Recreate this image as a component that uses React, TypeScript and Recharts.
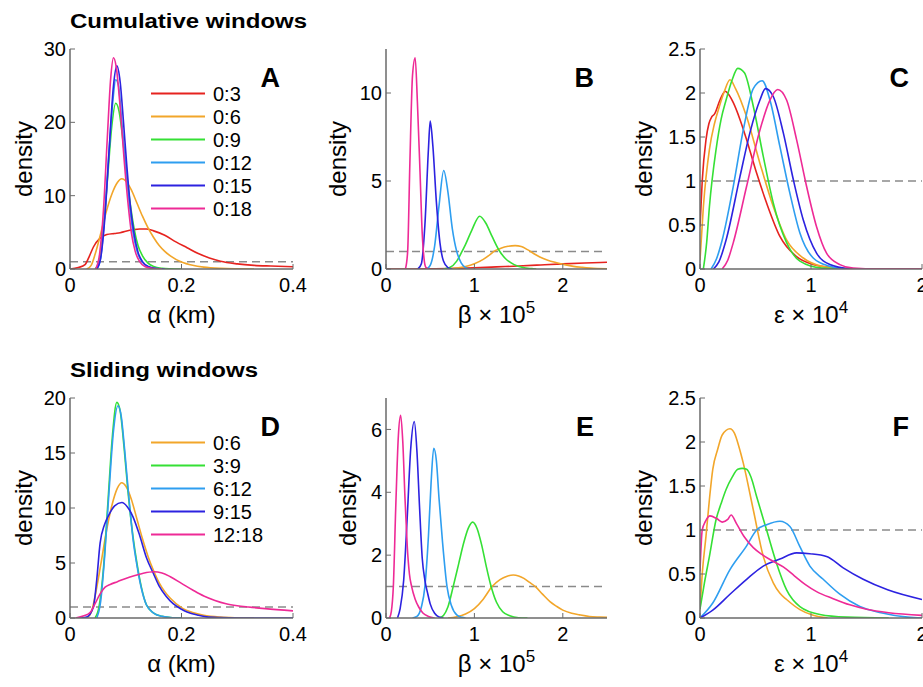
import React from 'react';
import { LineChart, Line, XAxis, YAxis, ReferenceLine, Legend } from 'recharts';

type Pt = [number, number];

const FONT = '"Liberation Sans", Arial, Helvetica, sans-serif';

const RED = '#e6231f';
const ORANGE = '#f2a62a';
const GREEN = '#35e035';
const LIGHTBLUE = '#2e9ef0';
const BLUE = '#2c22e0';
const PINK = '#ee2a96';

const cumulativeNames = ['0:3', '0:6', '0:9', '0:12', '0:15', '0:18'];
const slidingNames = ['0:6', '3:9', '6:12', '9:15', '12:18'];

// ---- alpha (km), cumulative windows
const alpha03: Pt[] = [[0, 0], [0.015, 0.2], [0.027, 0.6], [0.035, 1.8], [0.042, 3.0], [0.054, 4.2], [0.066, 4.7], [0.08, 4.85], [0.09, 4.95], [0.1, 5.15], [0.113, 5.35], [0.125, 5.45], [0.137, 5.45], [0.15, 5.2], [0.17, 4.6], [0.19, 3.7], [0.21, 2.9], [0.23, 2.1], [0.25, 1.5], [0.27, 1.05], [0.3, 0.7], [0.33, 0.5], [0.36, 0.4], [0.4, 0.3]];
// 0:6 is the same window in both rows
const alpha06: Pt[] = [[0.03, 0], [0.038, 0.5], [0.045, 2.0], [0.055, 4.8], [0.065, 7.8], [0.075, 10.2], [0.085, 11.8], [0.093, 12.3], [0.1, 12.0], [0.11, 10.8], [0.12, 9.0], [0.13, 7.2], [0.14, 5.6], [0.15, 4.3], [0.16, 3.2], [0.17, 2.4], [0.18, 1.8], [0.2, 0.95], [0.22, 0.5], [0.24, 0.25], [0.27, 0.08], [0.3, 0.02], [0.33, 0]];
const alpha09: Pt[] = [[0.045, 0], [0.052, 1.0], [0.06, 5.5], [0.068, 13], [0.075, 19.5], [0.082, 22.6], [0.088, 21.5], [0.095, 17.5], [0.1, 14], [0.107, 9.5], [0.115, 5.5], [0.122, 3.2], [0.13, 1.8], [0.14, 0.8], [0.15, 0.35], [0.165, 0.1], [0.18, 0.03], [0.2, 0]];
const alpha012: Pt[] = [[0.048, 0], [0.055, 1.5], [0.062, 7], [0.07, 16], [0.077, 23], [0.082, 25.8], [0.087, 25], [0.093, 20], [0.1, 14], [0.107, 8.5], [0.113, 5], [0.12, 2.5], [0.13, 0.9], [0.14, 0.3], [0.155, 0.05], [0.17, 0]];
const alpha015: Pt[] = [[0.048, 0], [0.055, 1.5], [0.062, 6.5], [0.07, 16], [0.078, 25], [0.084, 27.7], [0.09, 25.5], [0.096, 20], [0.102, 14], [0.108, 8.8], [0.115, 4.8], [0.122, 2.3], [0.13, 1.0], [0.14, 0.35], [0.155, 0.05], [0.17, 0]];
const alpha018: Pt[] = [[0.046, 0], [0.053, 2], [0.06, 8], [0.067, 18], [0.073, 26], [0.078, 28.8], [0.083, 27.5], [0.09, 22], [0.097, 15], [0.104, 9], [0.11, 5], [0.117, 2.4], [0.125, 1], [0.135, 0.3], [0.15, 0.05], [0.165, 0]];

// ---- beta x 1e5, cumulative windows
const beta03: Pt[] = [[0, 0], [0.5, 0.01], [0.8, 0.04], [1.0, 0.07], [1.25, 0.12], [1.5, 0.17], [1.75, 0.23], [2.0, 0.29], [2.25, 0.34], [2.5, 0.38]];
const beta06: Pt[] = [[0.7, 0], [0.8, 0.05], [0.9, 0.14], [1.0, 0.3], [1.1, 0.55], [1.18, 0.83], [1.22, 1.0], [1.3, 1.18], [1.38, 1.29], [1.46, 1.33], [1.53, 1.28], [1.6, 1.1], [1.67, 0.88], [1.74, 0.68], [1.83, 0.5], [1.93, 0.36], [2.02, 0.25], [2.12, 0.15], [2.22, 0.09], [2.31, 0.05], [2.5, 0.01]];
const beta09: Pt[] = [[0.65, 0], [0.72, 0.08], [0.8, 0.45], [0.85, 0.9], [0.9, 1.4], [0.97, 2.2], [1.06, 3.0], [1.13, 2.6], [1.2, 1.85], [1.28, 1.05], [1.35, 0.6], [1.45, 0.25], [1.55, 0.08], [1.65, 0.02], [1.7, 0]];
const beta012: Pt[] = [[0.46, 0], [0.5, 0.2], [0.55, 1.3], [0.6, 3.6], [0.653, 5.6], [0.7, 4.4], [0.75, 2.3], [0.8, 1.0], [0.85, 0.35], [0.9, 0.08], [0.95, 0]];
const beta015: Pt[] = [[0.36, 0], [0.4, 0.3], [0.44, 2.5], [0.48, 6.8], [0.5, 8.4], [0.53, 7.0], [0.57, 3.8], [0.61, 1.5], [0.65, 0.45], [0.7, 0.08], [0.75, 0]];
const beta018: Pt[] = [[0.22, 0], [0.245, 1.0], [0.27, 6], [0.3, 11], [0.33, 12], [0.355, 9.5], [0.385, 5.5], [0.41, 2], [0.43, 0.6], [0.45, 0.1], [0.48, 0]];

// ---- epsilon x 1e4, cumulative windows
const eps03: Pt[] = [[0, 0.48], [0.02, 1.0], [0.054, 1.47], [0.08, 1.65], [0.106, 1.73], [0.13, 1.76], [0.18, 1.92], [0.227, 2.02], [0.26, 1.98], [0.3, 1.89], [0.36, 1.7], [0.42, 1.47], [0.51, 1.09], [0.6, 0.75], [0.72, 0.37], [0.87, 0.14], [1.02, 0.05], [1.2, 0.015], [1.5, 0], [2, 0]];
const eps06: Pt[] = [[0, 0.1], [0.03, 0.7], [0.085, 1.36], [0.13, 1.65], [0.175, 1.85], [0.22, 2.02], [0.27, 2.15], [0.32, 2.05], [0.42, 1.73], [0.54, 1.2], [0.66, 0.71], [0.78, 0.33], [0.93, 0.125], [1.1, 0.03], [1.3, 0]];
const eps09: Pt[] = [[0.03, 0], [0.06, 0.3], [0.085, 0.71], [0.145, 1.36], [0.19, 1.7], [0.235, 1.92], [0.29, 2.15], [0.34, 2.28], [0.4, 2.23], [0.48, 1.85], [0.57, 1.28], [0.66, 0.75], [0.78, 0.3], [0.9, 0.09], [1.1, 0.01], [1.3, 0]];
const eps012: Pt[] = [[0.1, 0], [0.15, 0.12], [0.2, 0.33], [0.3, 0.94], [0.39, 1.58], [0.48, 2.05], [0.56, 2.14], [0.63, 1.92], [0.72, 1.39], [0.81, 0.86], [0.9, 0.41], [1.02, 0.125], [1.17, 0.03], [1.3, 0]];
const eps015: Pt[] = [[0.12, 0], [0.17, 0.08], [0.235, 0.33], [0.36, 1.05], [0.45, 1.55], [0.54, 1.92], [0.59, 2.05], [0.66, 1.96], [0.75, 1.55], [0.84, 1.02], [0.93, 0.56], [1.05, 0.18], [1.17, 0.05], [1.35, 0]];
const eps018: Pt[] = [[0.2, 0], [0.25, 0.1], [0.3, 0.3], [0.42, 0.94], [0.54, 1.58], [0.63, 1.92], [0.7, 2.04], [0.78, 1.92], [0.87, 1.47], [0.96, 0.94], [1.05, 0.48], [1.14, 0.18], [1.26, 0.05], [1.38, 0.01], [1.6, 0], [2, 0]];

// ---- sliding windows
const alpha39: Pt[] = [[0.045, 0], [0.052, 1.0], [0.06, 4.5], [0.068, 10.5], [0.076, 16.5], [0.084, 19.6], [0.09, 18.8], [0.097, 15.5], [0.104, 11.5], [0.113, 7.4], [0.12, 5], [0.128, 2.8], [0.137, 1.2], [0.15, 0.45], [0.165, 0.15], [0.18, 0.05], [0.2, 0]];
const alpha612: Pt[] = [[0.048, 0], [0.055, 1.5], [0.062, 5.5], [0.07, 11.5], [0.078, 17], [0.086, 19.3], [0.092, 18.3], [0.098, 15.3], [0.105, 11.3], [0.113, 7.2], [0.12, 4.8], [0.128, 2.7], [0.137, 1.2], [0.15, 0.45], [0.165, 0.15], [0.18, 0.05], [0.2, 0]];
const alpha915: Pt[] = [[0.015, 0], [0.03, 0.1], [0.042, 1.0], [0.048, 3.5], [0.054, 6.8], [0.062, 8.5], [0.07, 9.4], [0.08, 10.2], [0.093, 10.5], [0.103, 10.1], [0.113, 9.2], [0.125, 7.5], [0.137, 5.5], [0.15, 4.0], [0.16, 2.9], [0.172, 2.0], [0.185, 1.3], [0.2, 0.8], [0.21, 0.55], [0.23, 0.25], [0.245, 0.1], [0.27, 0.03], [0.3, 0], [0.4, 0]];
const alpha1218: Pt[] = [[0.01, 0], [0.025, 0.2], [0.036, 0.5], [0.045, 1.3], [0.054, 2.2], [0.063, 2.8], [0.072, 3.05], [0.085, 3.3], [0.1, 3.6], [0.115, 3.85], [0.13, 4.05], [0.15, 4.2], [0.165, 4.1], [0.18, 3.75], [0.2, 3.15], [0.22, 2.55], [0.24, 2.0], [0.26, 1.6], [0.28, 1.3], [0.3, 1.12], [0.32, 1.0], [0.35, 0.85], [0.4, 0.65]];

const betaS06: Pt[] = [[0.7, 0], [0.8, 0.04], [0.9, 0.13], [1.0, 0.3], [1.1, 0.6], [1.2, 1.0], [1.29, 1.22], [1.37, 1.33], [1.44, 1.37], [1.5, 1.34], [1.56, 1.26], [1.62, 1.14], [1.69, 1.0], [1.77, 0.76], [1.855, 0.52], [1.93, 0.37], [2.0, 0.25], [2.1, 0.15], [2.19, 0.1], [2.3, 0.05], [2.42, 0.03], [2.5, 0.02]];
const beta39: Pt[] = [[0.6, 0], [0.65, 0.08], [0.7, 0.35], [0.76, 1.0], [0.82, 1.7], [0.88, 2.4], [0.93, 2.85], [0.98, 3.05], [1.03, 2.85], [1.08, 2.35], [1.13, 1.7], [1.18, 1.1], [1.25, 0.5], [1.32, 0.2], [1.4, 0.07], [1.5, 0.01], [1.6, 0]];
const beta612: Pt[] = [[0.3, 0], [0.35, 0.05], [0.4, 0.35], [0.44, 1.0], [0.48, 2.6], [0.51, 4.3], [0.54, 5.4], [0.57, 5.0], [0.6, 3.8], [0.64, 2.4], [0.69, 1.0], [0.74, 0.4], [0.8, 0.1], [0.86, 0.02], [0.9, 0]];
const beta915: Pt[] = [[0.13, 0], [0.16, 0.3], [0.2, 1.2], [0.24, 3.2], [0.28, 5.4], [0.32, 6.25], [0.35, 5.3], [0.38, 3.5], [0.41, 1.9], [0.44, 1.2], [0.47, 0.8], [0.5, 0.45], [0.55, 0.15], [0.6, 0.03], [0.65, 0]];
const beta1218: Pt[] = [[0.04, 0], [0.06, 0.2], [0.083, 1.0], [0.11, 3.5], [0.14, 5.8], [0.166, 6.45], [0.19, 5.6], [0.215, 3.8], [0.24, 2.3], [0.265, 1.4], [0.29, 1.0], [0.33, 0.6], [0.37, 0.35], [0.42, 0.15], [0.48, 0.05], [0.55, 0]];

const epsS06: Pt[] = [[0, 0.1], [0.02, 0.5], [0.054, 0.93], [0.085, 1.35], [0.115, 1.69], [0.16, 1.92], [0.2, 2.08], [0.27, 2.15], [0.31, 2.1], [0.35, 1.95], [0.39, 1.76], [0.48, 1.23], [0.57, 0.7], [0.66, 0.4], [0.72, 0.28], [0.78, 0.21], [0.9, 0.095], [1.02, 0.03], [1.15, 0]];
const eps39: Pt[] = [[0, 0.1], [0.04, 0.4], [0.085, 0.7], [0.145, 1.12], [0.19, 1.3], [0.235, 1.46], [0.29, 1.6], [0.34, 1.69], [0.38, 1.7], [0.42, 1.69], [0.46, 1.6], [0.51, 1.38], [0.6, 1.0], [0.69, 0.62], [0.78, 0.32], [0.9, 0.13], [1.08, 0.04], [1.32, 0.01], [1.7, 0]];
const eps612: Pt[] = [[0, 0], [0.115, 0.17], [0.27, 0.55], [0.42, 0.82], [0.51, 1.0], [0.6, 1.06], [0.72, 1.1], [0.81, 1.04], [0.9, 0.81], [0.99, 0.59], [1.11, 0.44], [1.26, 0.27], [1.44, 0.13], [1.63, 0.06], [1.87, 0.01], [2, 0]];
const eps915: Pt[] = [[0, 0], [0.115, 0.09], [0.27, 0.27], [0.42, 0.44], [0.57, 0.59], [0.72, 0.67], [0.87, 0.74], [0.99, 0.73], [1.14, 0.7], [1.29, 0.57], [1.47, 0.44], [1.69, 0.32], [2, 0.21]];
const eps1218: Pt[] = [[0, 0.53], [0.02, 1.0], [0.05, 1.1], [0.09, 1.16], [0.15, 1.13], [0.2, 1.09], [0.25, 1.12], [0.28, 1.17], [0.33, 1.07], [0.4, 0.92], [0.48, 0.8], [0.56, 0.72], [0.65, 0.65], [0.75, 0.58], [0.85, 0.48], [0.95, 0.38], [1.05, 0.3], [1.2, 0.22], [1.35, 0.15], [1.5, 0.1], [1.7, 0.06], [2, 0.03]];

const alphaTicks = [0, 0.2, 0.4];
const unitTicks = [0, 1, 2];

type Series = { name: string; color: string; points: Pt[] };
type PanelDef = {
  letter: string;
  left: number;
  top: number;
  plotW: number;
  plotH: number;
  right: number;
  xDomain: [number, number];
  xTicks: number[];
  yDomain: [number, number];
  yTicks: number[];
  yLabelOff: number;
  xLabel: 'alpha' | 'beta' | 'eps';
  legend: boolean;
  series: Series[];
};

const cumColors = [RED, ORANGE, GREEN, LIGHTBLUE, BLUE, PINK];
const slideColors = [ORANGE, GREEN, LIGHTBLUE, BLUE, PINK];
const mk = (names: string[], colors: string[], pts: Pt[][]): Series[] =>
  names.map((n, i) => ({ name: n, color: colors[i], points: pts[i] }));

const panels: PanelDef[] = [
  {
    letter: 'A', left: 70, top: 49, plotW: 223, plotH: 220, right: 22,
    xDomain: [0, 0.4], xTicks: alphaTicks, yDomain: [0, 30], yTicks: [0, 10, 20, 30],
    yLabelOff: 47, xLabel: 'alpha', legend: true,
    series: mk(cumulativeNames, cumColors, [alpha03, alpha06, alpha09, alpha012, alpha015, alpha018]),
  },
  {
    letter: 'B', left: 386, top: 49, plotW: 221, plotH: 220, right: 12,
    xDomain: [0, 2.5], xTicks: unitTicks, yDomain: [0, 12.5], yTicks: [0, 5, 10],
    yLabelOff: 49, xLabel: 'beta', legend: false,
    series: mk(cumulativeNames, cumColors, [beta03, beta06, beta09, beta012, beta015, beta018]),
  },
  {
    letter: 'C', left: 700, top: 49, plotW: 222, plotH: 220, right: 1,
    xDomain: [0, 2], xTicks: unitTicks, yDomain: [0, 2.5], yTicks: [0, 0.5, 1, 1.5, 2, 2.5],
    yLabelOff: 57, xLabel: 'eps', legend: false,
    series: mk(cumulativeNames, cumColors, [eps03, eps06, eps09, eps012, eps015, eps018]),
  },
  {
    letter: 'D', left: 70, top: 398, plotW: 223, plotH: 220, right: 22,
    xDomain: [0, 0.4], xTicks: alphaTicks, yDomain: [0, 20], yTicks: [0, 5, 10, 15, 20],
    yLabelOff: 47, xLabel: 'alpha', legend: true,
    series: mk(slidingNames, slideColors, [alpha06, alpha39, alpha612, alpha915, alpha1218]),
  },
  {
    letter: 'E', left: 386, top: 398, plotW: 221, plotH: 220, right: 12,
    xDomain: [0, 2.5], xTicks: unitTicks, yDomain: [0, 7], yTicks: [0, 2, 4, 6],
    yLabelOff: 39, xLabel: 'beta', legend: false,
    series: mk(slidingNames, slideColors, [betaS06, beta39, beta612, beta915, beta1218]),
  },
  {
    letter: 'F', left: 700, top: 398, plotW: 222, plotH: 220, right: 1,
    xDomain: [0, 2], xTicks: unitTicks, yDomain: [0, 2.5], yTicks: [0, 0.5, 1, 1.5, 2, 2.5],
    yLabelOff: 57, xLabel: 'eps', legend: false,
    series: mk(slidingNames, slideColors, [epsS06, eps39, eps612, eps915, eps1218]),
  },
];

const Y_AXIS_W = 70;
const TOP_M = 10;
const X_AXIS_H = 70;
const AXIS_COLOR = '#6a6a6a';
const tickStyle = { fontSize: 20, fill: '#000', fontFamily: FONT };

const LegendBox = ({ payload, order }: any) => {
  const items = [...(payload || [])].sort(
    (a: any, b: any) => order.indexOf(a.value) - order.indexOf(b.value),
  );
  return (
    <svg width={120} height={items.length * 23} style={{ display: 'block', overflow: 'visible' }}>
      {items.map((p: any, i: number) => (
        <g key={p.value}>
          <line x1={0} x2={54} y1={11.5 + i * 23} y2={11.5 + i * 23} stroke={p.color} strokeWidth={1.8} />
          <text x={62} y={11.5 + i * 23} dominantBaseline="central" fontSize={20} fontFamily={FONT} fill="#000">
            {p.value}
          </text>
        </g>
      ))}
    </svg>
  );
};

function XLabel({ kind, x, y }: { kind: string; x: number; y: number }) {
  const common = { x, y, textAnchor: 'middle' as const, fontSize: 24, fontFamily: FONT, fill: '#000' };
  if (kind === 'alpha') return <text {...common}>α (km)</text>;
  const sym = kind === 'beta' ? 'β' : 'ε';
  const exp = kind === 'beta' ? '5' : '4';
  return (
    <text {...common}>
      {sym} × 10<tspan fontSize={17} dy={-10}>{exp}</tspan>
    </text>
  );
}

function Panel({ p }: { p: PanelDef }) {
  const width = Y_AXIS_W + p.plotW + p.right;
  const height = TOP_M + p.plotH + X_AXIS_H;
  const order = p.series.map((s) => s.name);
  return (
    <div style={{ position: 'absolute', left: p.left - Y_AXIS_W, top: p.top - TOP_M, width, height }}>
      <LineChart width={width} height={height} margin={{ top: TOP_M, right: p.right, left: 0, bottom: 0 }}>
        <XAxis
          dataKey="x" type="number" domain={p.xDomain} ticks={p.xTicks} allowDataOverflow
          height={X_AXIS_H} tickSize={-5} tickMargin={14} interval={0}
          axisLine={{ stroke: AXIS_COLOR, strokeWidth: 1.5 }} tickLine={{ stroke: AXIS_COLOR }} tick={tickStyle}
        />
        <XAxis
          xAxisId="top" orientation="top" dataKey="x" type="number" domain={p.xDomain} ticks={p.xTicks}
          allowDataOverflow height={0} tickSize={-5} tick={false}
          axisLine={{ stroke: AXIS_COLOR, strokeWidth: 1.5 }} tickLine={{ stroke: AXIS_COLOR }}
        />
        <YAxis
          type="number" domain={p.yDomain} ticks={p.yTicks} allowDataOverflow width={Y_AXIS_W}
          tickSize={-5} tickMargin={9} interval={0}
          axisLine={{ stroke: AXIS_COLOR, strokeWidth: 1.5 }} tickLine={{ stroke: AXIS_COLOR }} tick={tickStyle}
        />
        <YAxis
          yAxisId="right" orientation="right" type="number" domain={p.yDomain} ticks={p.yTicks}
          allowDataOverflow width={0} tickSize={-5} tick={false}
          axisLine={{ stroke: AXIS_COLOR, strokeWidth: 1.5 }} tickLine={{ stroke: AXIS_COLOR }}
        />
        <ReferenceLine y={1} stroke="#8a8a8a" strokeWidth={1.5} strokeDasharray="8 5" />
        {p.series.map((s) => (
          <Line
            key={s.name}
            data={s.points.map(([x, y]) => ({ x, y }))}
            dataKey="y"
            name={s.name}
            stroke={s.color}
            strokeWidth={1.6}
            type="monotone"
            dot={false}
            activeDot={false}
            isAnimationActive={false}
          />
        ))}
        {p.legend && (
          <Legend
            layout="vertical"
            align="center"
            verticalAlign="middle"
            itemSorter={(item: any) => order.indexOf(item.value)}
            content={<LegendBox order={order} />}
            wrapperStyle={{ position: 'absolute', left: Y_AXIS_W + 81, top: TOP_M + 44 - 11.5, width: 120, height: 'auto', margin: 0 }}
          />
        )}
      </LineChart>
      <svg width={width} height={height} style={{ position: 'absolute', left: 0, top: 0, pointerEvents: 'none', overflow: 'visible' }}>
        <text
          x={Y_AXIS_W + p.plotW - 13} y={TOP_M + 38} textAnchor="end"
          fontSize={27} fontWeight="bold" fontFamily={FONT} fill="#000"
        >
          {p.letter}
        </text>
        <text
          transform={`translate(${Y_AXIS_W - p.yLabelOff}, ${TOP_M + p.plotH / 2}) rotate(-90)`}
          textAnchor="middle" dominantBaseline="central" fontSize={24} fontFamily={FONT} fill="#000"
        >
          density
        </text>
        <XLabel kind={p.xLabel} x={Y_AXIS_W + p.plotW / 2} y={TOP_M + p.plotH + 54} />
      </svg>
    </div>
  );
}

export default function App() {
  return (
    <div style={{ position: 'absolute', left: 0, top: 0, width: 923, height: 687, overflow: 'hidden', background: '#fff' }}>
      <svg width={923} height={687} style={{ position: 'absolute', left: 0, top: 0 }}>
        <text x={70} y={28} fontSize={20} fontWeight="bold" fontFamily={FONT} textLength={237} lengthAdjust="spacingAndGlyphs">
          Cumulative windows
        </text>
        <text x={70} y={377} fontSize={20} fontWeight="bold" fontFamily={FONT} textLength={188} lengthAdjust="spacingAndGlyphs">
          Sliding windows
        </text>
      </svg>
      {panels.map((p) => (
        <Panel key={p.letter} p={p} />
      ))}
    </div>
  );
}
